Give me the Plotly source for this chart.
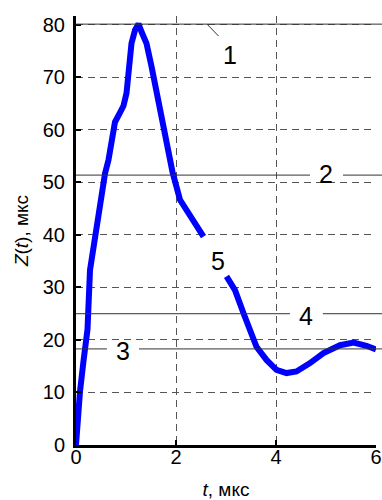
import plotly.graph_objects as go

# Curve Z(t) (two segments separated by a gap)
t_vals = [0, 0.03, 0.08, 0.15, 0.23, 0.28, 0.41, 0.58, 0.65, 0.71, 0.78, 0.88, 0.95, 1.01, 1.05,
          1.11, 1.18, 1.25, 1.31, 1.41, 1.51, 1.61, 1.68, 1.75, 1.85, 1.93, 2.08, 2.28, 2.55,
          None,
          3.01, 3.18, 3.35, 3.45, 3.61, 3.81, 4.01, 4.21, 4.41, 4.68, 4.95, 5.28, 5.55, 5.81, 6.0]
z_vals = [0, 5.4, 10.2, 16.0, 22.0, 33.3, 41.6, 51.7, 54.3, 58.6, 61.5, 63.3, 64.6, 67.0, 72.1,
          76.5, 79.0, 80.2, 78.7, 76.5, 72.1, 67.6, 63.8, 60.0, 56.2, 52.0, 46.7, 43.5, 39.7,
          None,
          32.1, 29.5, 25.1, 22.8, 18.7, 16.2, 14.3, 13.7, 14.0, 15.6, 17.5, 19.0, 19.5, 18.9, 18.2]

# Reference levels
level_names = ["1", "2", "3", "4"]
level_values = [80.15, 51.4, 18.3, 25.0]

# Labels
label_texts = ["1", "2", "3", "4", "5"]
label_x = [3.08, 5.0, 0.94, 4.6, 2.84]
label_y = [74.3, 51.6, 17.9, 24.6, 35.0]

x_ticks = [0, 2, 4, 6]
y_ticks = [0, 10, 20, 30, 40, 50, 60, 70, 80]

fig = go.Figure()
fig.add_trace(go.Scatter(x=t_vals, y=z_vals, mode="lines",
                         line=dict(color="#0000FF", width=6),
                         connectgaps=False, showlegend=False, hoverinfo="skip"))

# gaps (paper coords) around labels for each level line
gaps = {"1": None, "2": (0.78, 0.89), "3": (0.103, 0.21), "4": (0.713, 0.823)}
for name, val in zip(level_names, level_values):
    g = gaps[name]
    segs = [(0, 1.02)] if g is None else [(0, g[0]), (g[1], 1.02)]
    for a, b in segs:
        fig.add_shape(type="line", xref="paper", yref="y", x0=a, x1=b, y0=val, y1=val,
                      line=dict(color="#333333", width=1), layer="above")

for txt, lx, ly in zip(label_texts, label_x, label_y):
    fig.add_annotation(x=lx, y=ly, text=txt, showarrow=False,
                       font=dict(family="Liberation Sans, Arial", size=25, color="black"))

# leader line for label 1
fig.add_annotation(x=2.62, y=level_values[0], ax=2.88, ay=77.6, axref="x", ayref="y",
                   text="", showarrow=True, arrowhead=0, arrowwidth=1, arrowcolor="#333333")

fig.update_layout(
    width=382, height=500,
    margin=dict(l=76, r=6, t=16, b=55, autoexpand=False),
    paper_bgcolor="white", plot_bgcolor="white",
    font=dict(family="Liberation Sans, Arial", size=20, color="black"),
)
fig.update_xaxes(range=[0, 6], tickvals=x_ticks, ticktext=[str(v) for v in x_ticks],
                 showline=True, linewidth=3, linecolor="black", automargin=False,
                 ticks="inside", ticklen=5, tickwidth=1.5, tickcolor="black",
                 showgrid=True, gridcolor="#555555", gridwidth=1, griddash="7px,5px",
                 zeroline=False, ticklabelstandoff=-8,
                 title=dict(text="<i>t</i>, мкс", font=dict(size=19), standoff=18))
fig.update_yaxes(range=[0, 81.7], tickvals=y_ticks, ticktext=[str(v) for v in y_ticks],
                 showline=True, linewidth=3, linecolor="black", automargin=False,
                 ticks="inside", ticklen=5, tickwidth=1.5, tickcolor="black",
                 showgrid=True, gridcolor="#555555", gridwidth=1, griddash="7px,5px",
                 zeroline=False, ticklabelstandoff=4,
                 title=dict(text="<i>Z</i>(<i>t</i>), мкс", font=dict(size=19), standoff=10))

fig.write_html("out.html")
